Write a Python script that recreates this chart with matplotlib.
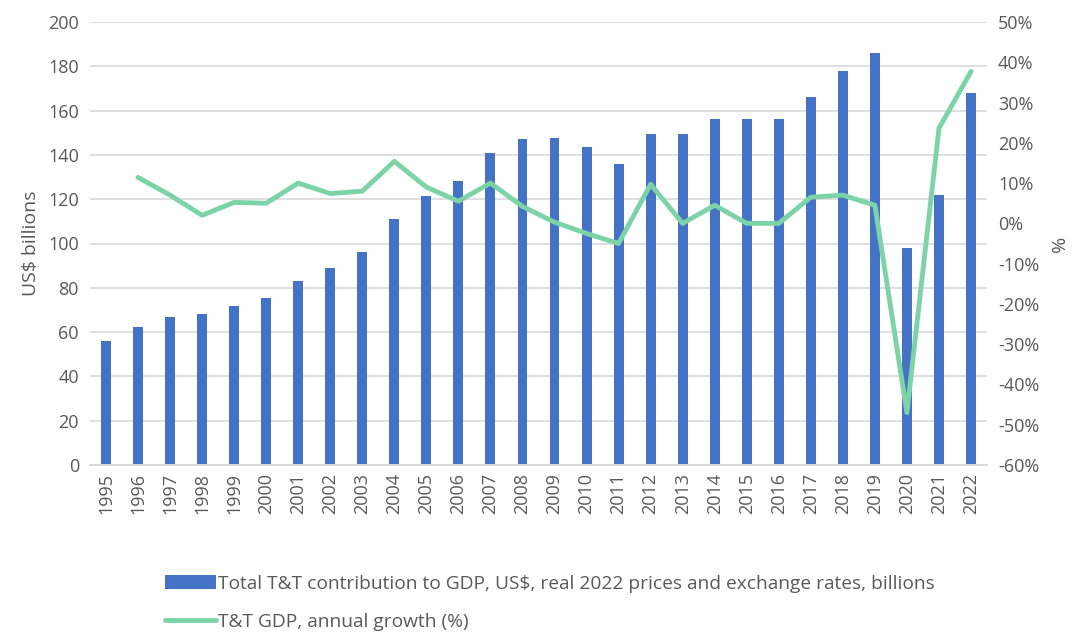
import matplotlib
matplotlib.use("Agg")
import matplotlib.pyplot as plt
import numpy as np
from matplotlib.ticker import FuncFormatter

plt.rcParams['font.family'] = ['Open Sans', 'DejaVu Sans']

years = [str(y) for y in range(1995, 2023)]
contribution = [56, 62.5, 67, 68, 72, 75.5, 83, 89, 96, 111, 121.5, 128, 141, 147, 147.5,
                143.5, 136, 149.5, 149.5, 156, 156, 156, 166, 178, 186, 98, 122, 168]
growth_years = years[1:]
growth = [11.4, 7.0, 2.0, 5.2, 5.0, 10.0, 7.4, 8.0, 15.4, 9.0, 5.5, 10.0, 4.2, 0.3,
          -2.5, -5.0, 9.7, 0.0, 4.5, 0.0, 0.0, 6.5, 7.0, 4.5, -47.0, 23.6, 37.7]

bar_label = "Total T&T contribution to GDP, US$, real 2022 prices and exchange rates, billions"
line_label = "T&T GDP, annual growth (%)"

text_color = "#595959"
grid_color = "#d9d9d9"

fig = plt.figure(figsize=(10.75, 6.34), dpi=100)
ax = fig.add_axes([90/1075, 1-465/634, (987-90)/1075, (465-22)/634])
ax2 = ax.twinx()

x = np.arange(len(years))
bars = ax.bar(x, contribution, width=0.31, color="#4472c4", zorder=2, label=bar_label)
gx = np.arange(1, len(years))
line, = ax2.plot(gx, growth, color="#7dd3a8", linewidth=3.5, solid_capstyle='round',
                 solid_joinstyle='round', zorder=3, label=line_label)

ax.set_xlim(-0.5, len(years) - 0.5)
ax.set_ylim(0, 200)
ax.set_yticks(range(0, 201, 20))
ax2.set_ylim(-60, 50)
ax2.set_yticks(range(-60, 51, 10))
ax2.yaxis.set_major_formatter(FuncFormatter(lambda v, p: f"{int(v)}%"))

ax.set_xticks(x)
ax.set_xticklabels(years, rotation=90)

ax.yaxis.grid(True, color=grid_color, linewidth=1.2, zorder=0)
ax.set_axisbelow(True)
for a in (ax, ax2):
    for s in ('top', 'left', 'right'):
        a.spines[s].set_visible(False)
    a.spines['bottom'].set_color(grid_color)
    a.spines['bottom'].set_linewidth(1.2)
    a.tick_params(axis='both', length=0, labelsize=13, colors=text_color)
ax.tick_params(axis='x', pad=6)
ax.tick_params(axis='y', pad=8)
ax2.tick_params(axis='y', pad=8)

ax.set_ylabel("US$ billions", fontsize=14, color=text_color, labelpad=6)
ax2.set_ylabel("%", fontsize=14, color=text_color, rotation=90, labelpad=8)

fig.legend(handles=[bars, line], labels=[bar_label, line_label],
           loc='upper left', bbox_to_anchor=(157/1075, 1-567/634),
           frameon=False, fontsize=13.8, labelcolor=text_color,
           handlelength=2.7, handleheight=0.8, handletextpad=0.1, labelspacing=1.05,
           borderaxespad=0)

fig.savefig("out.png", dpi=100)
